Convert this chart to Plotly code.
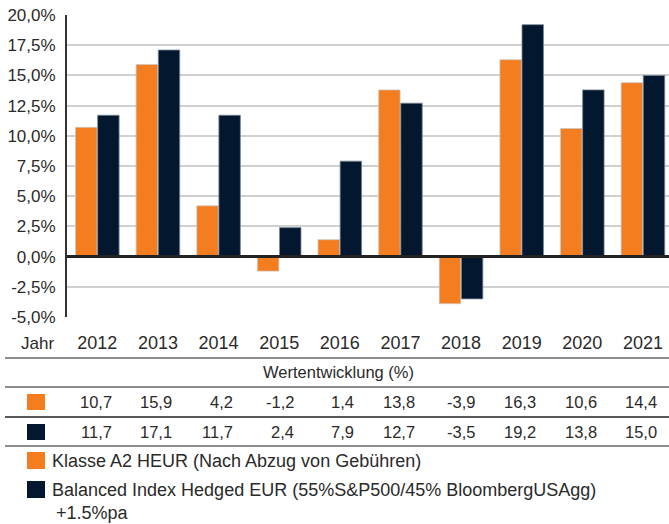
import plotly.graph_objects as go

years = ["2012", "2013", "2014", "2015", "2016", "2017", "2018", "2019", "2020", "2021"]
fund_name = "Klasse A2 HEUR (Nach Abzug von Gebühren)"
index_name = "Balanced Index Hedged EUR (55%S&P500/45% BloombergUSAgg)"
index_name_2 = "+1.5%pa"
fund_values = [10.7, 15.9, 4.2, -1.2, 1.4, 13.8, -3.9, 16.3, 10.6, 14.4]
index_values = [11.7, 17.1, 11.7, 2.4, 7.9, 12.7, -3.5, 19.2, 13.8, 15.0]
y_ticks = [-5, -2.5, 0, 2.5, 5, 7.5, 10, 12.5, 15, 17.5, 20]
y_tick_text = ["-5,0%", "-2,5%", "0,0%", "2,5%", "5,0%", "7,5%", "10,0%", "12,5%", "15,0%", "17,5%", "20,0%"]

ORANGE = "#F47D20"
NAVY = "#03182E"
TEXT = "#2a2a2a"
FONT = "Liberation Sans, Arial, sans-serif"

W, H = 669, 524
L, R, T, B = 67, 0, 15, 207
PW, PH = W - L - R, H - T - B


def px(x):
    return (x - L) / PW


def py(y):
    return (H - B - y) / PH


def fmt(v):
    return f"{v:.1f}".replace(".", ",")


fig = go.Figure()
fig.add_trace(go.Bar(x=list(range(len(years))), y=fund_values, name=fund_name,
                     marker=dict(color=ORANGE, line=dict(color="rgba(200,200,200,0.7)", width=1))))
fig.add_trace(go.Bar(x=list(range(len(years))), y=index_values, name=index_name,
                     marker=dict(color=NAVY, line=dict(color="rgba(120,135,150,0.8)", width=1))))

shapes = []
annotations = []

# zero line
shapes.append(dict(type="line", xref="paper", yref="y", x0=0, x1=1, y0=0, y1=0,
                   line=dict(color="#222222", width=3), layer="above"))
# table lines
for ypix, col, w in [(358, "#8c8c8c", 2), (387, "#8c8c8c", 2), (417, "#222222", 1.5), (446, "#8c8c8c", 2)]:
    shapes.append(dict(type="line", xref="paper", yref="paper", x0=px(5), x1=px(669),
                       y0=py(ypix), y1=py(ypix), line=dict(color=col, width=w)))

# squares
for (y0, y1), col in [((394, 410), ORANGE), ((424, 440), NAVY), ((452, 469), ORANGE), ((481, 498), NAVY)]:
    shapes.append(dict(type="rect", xref="paper", yref="paper", x0=px(27), x1=px(45),
                       y0=py(y1), y1=py(y0), fillcolor=col, line=dict(width=0)))

annotations.append(dict(text="Jahr", xref="paper", yref="paper", x=px(56), y=py(343),
                        xanchor="right", yanchor="middle", showarrow=False,
                        font=dict(size=17, color=TEXT, family=FONT)))
annotations.append(dict(text="Wertentwicklung (%)", xref="paper", yref="paper", x=px(338), y=py(372),
                        xanchor="center", yanchor="middle", showarrow=False,
                        font=dict(size=16.5, color=TEXT, family=FONT)))

for i in range(len(years)):
    for vals, ypix in [(fund_values, 402), (index_values, 432)]:
        annotations.append(dict(text=fmt(vals[i]), xref="x", yref="paper", x=i + 0.27, y=py(ypix),
                                xanchor="right", yanchor="middle", showarrow=False,
                                font=dict(size=16.5, color=TEXT, family=FONT)))

for text, xpix, ypix in [(fund_name, 50, 461), (index_name, 50, 490), (index_name_2, 54, 513)]:
    annotations.append(dict(text=text, xref="paper", yref="paper", x=px(xpix), y=py(ypix),
                            xanchor="left", yanchor="middle", showarrow=False,
                            font=dict(size=18, color=TEXT, family=FONT)))

fig.update_layout(
    width=W, height=H,
    margin=dict(l=L, r=R, t=T, b=B, pad=0),
    paper_bgcolor="white", plot_bgcolor="white",
    barmode="group", bargap=0.27, bargroupgap=0.03,
    showlegend=False,
    font=dict(family=FONT, color=TEXT),
    shapes=shapes, annotations=annotations,
    xaxis=dict(range=[-0.5, 9.43], tickmode="array", tickvals=list(range(len(years))), ticktext=years,
               showgrid=False, zeroline=False, showline=False,
               ticks="outside", ticklen=9, tickcolor="rgba(0,0,0,0)",
               tickfont=dict(size=18, color=TEXT, family=FONT)),
    yaxis=dict(range=[-5, 20], tickmode="array", tickvals=y_ticks, ticktext=y_tick_text,
               showgrid=True, gridcolor="#d0d0d0", gridwidth=2, zeroline=False,
               showline=True, linecolor="#333333", linewidth=2,
               ticks="outside", ticklen=6, tickcolor="rgba(0,0,0,0)",
               tickfont=dict(size=17, color=TEXT, family=FONT)),
)

fig.write_html("out.html", config={"displayModeBar": False})
with open("out.html", "r", encoding="utf-8") as f:
    html = f.read()
html = html.replace("<head>", "<head><style>html,body{margin:0;padding:0;overflow:hidden;}</style>", 1)
with open("out.html", "w", encoding="utf-8") as f:
    f.write(html)
